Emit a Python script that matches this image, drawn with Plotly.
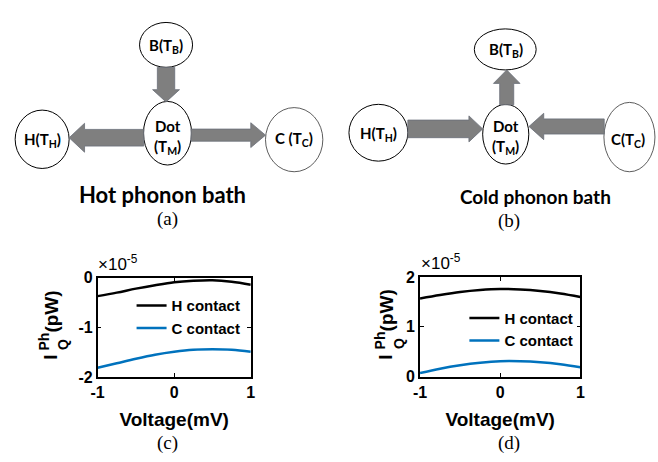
import plotly.graph_objects as go

W, H = 658, 462

# Bias voltage (mV) and phonon heat current (in units of 1e-5 pW)
voltage = [-1, -0.75, -0.5, -0.25, 0, 0.25, 0.5, 0.75, 1]
hot_bath_H = [-0.37, -0.30, -0.22, -0.15, -0.09, -0.06, -0.05, -0.08, -0.14]
hot_bath_C = [-1.81, -1.72, -1.63, -1.55, -1.49, -1.45, -1.44, -1.45, -1.49]
cold_bath_H = [1.57, 1.64, 1.70, 1.74, 1.76, 1.75, 1.72, 1.67, 1.60]
cold_bath_C = [0.07, 0.16, 0.23, 0.28, 0.31, 0.31, 0.29, 0.25, 0.19]

series_names = ["H contact", "C contact"]
x_tickvals = [-1, 0, 1]
x_ticktext = ["-1", "0", "1"]
yc_tickvals = [-2, -1, 0]
yc_ticktext = ["-2", "-1", "0"]
yd_tickvals = [0, 1, 2]
yd_ticktext = ["0", "1", "2"]

BLACK = "#000000"
BLUE = "#0072BD"
ARROW = "#7f7f7f"
AX_FONT = "Liberation Sans"
DIA_FONT = "Lato"
CAP_FONT = "Liberation Serif"


def px(x):
    return x / W


def py(y):
    return 1 - y / H


def ellipse(cx, cy, rx, ry, width=1.0, color="black"):
    return dict(type="circle", xref="paper", yref="paper",
                x0=px(cx - rx), x1=px(cx + rx), y0=py(cy + ry), y1=py(cy - ry),
                line=dict(color=color, width=width), fillcolor="white", layer="above")


def arrow(x0, y0, x1, y1, shaft, head, head_len):
    # block arrow from (x0, y0) to tip (x1, y1), pixel units
    dx, dy = x1 - x0, y1 - y0
    length = (dx * dx + dy * dy) ** 0.5
    ux, uy = dx / length, dy / length
    nx, ny = -uy, ux
    bx, by = x1 - ux * head_len, y1 - uy * head_len
    pts = [
        (x0 + nx * shaft / 2, y0 + ny * shaft / 2),
        (bx + nx * shaft / 2, by + ny * shaft / 2),
        (bx + nx * head / 2, by + ny * head / 2),
        (x1, y1),
        (bx - nx * head / 2, by - ny * head / 2),
        (bx - nx * shaft / 2, by - ny * shaft / 2),
        (x0 - nx * shaft / 2, y0 - ny * shaft / 2),
    ]
    path = "M " + " L ".join(f"{px(a):.5f},{py(b):.5f}" for a, b in pts) + " Z"
    return dict(type="path", xref="paper", yref="paper", path=path,
                fillcolor=ARROW, line=dict(color="#6a6f78", width=0.8), layer="above")


def label(x, y, text, size=15, family=DIA_FONT, bold=True, **kw):
    t = f"<b>{text}</b>" if bold else text
    d = dict(x=px(x), y=py(y), xref="paper", yref="paper", text=t, showarrow=False,
             font=dict(family=family, size=size, color="black"),
             xanchor="center", yanchor="middle")
    d.update(kw)
    return d


fig = go.Figure()

# (c) hot phonon bath
fig.add_trace(go.Scatter(x=voltage, y=hot_bath_H, name=series_names[0], mode="lines",
                         line=dict(color=BLACK, width=2.5, shape="spline"),
                         xaxis="x", yaxis="y", legend="legend"))
fig.add_trace(go.Scatter(x=voltage, y=hot_bath_C, name=series_names[1], mode="lines",
                         line=dict(color=BLUE, width=2.5, shape="spline"),
                         xaxis="x", yaxis="y", legend="legend"))
# (d) cold phonon bath
fig.add_trace(go.Scatter(x=voltage, y=cold_bath_H, name=series_names[0], mode="lines",
                         line=dict(color=BLACK, width=2.5, shape="spline"),
                         xaxis="x2", yaxis="y2", legend="legend2"))
fig.add_trace(go.Scatter(x=voltage, y=cold_bath_C, name=series_names[1], mode="lines",
                         line=dict(color=BLUE, width=2.5, shape="spline"),
                         xaxis="x2", yaxis="y2", legend="legend2"))

tick_font = dict(family=AX_FONT, size=16, color="black", weight="bold")
common = dict(showline=True, linecolor="black", linewidth=1.6, mirror="allticks",
              ticks="inside", ticklen=4, tickwidth=1.2, tickcolor="black",
              showgrid=False, zeroline=False, tickfont=tick_font, tickmode="array",
              fixedrange=True)
xtitle = dict(text="<b>Voltage(mV)</b>", font=dict(family=AX_FONT, size=19, color="black"),
              standoff=13)
legend_font = dict(family=AX_FONT, size=15, color="black", weight="bold")

fig.update_layout(
    width=W, height=H,
    margin=dict(l=0, r=0, t=0, b=0),
    paper_bgcolor="white", plot_bgcolor="white",
    xaxis=dict(domain=[px(92.3), px(248.3)], anchor="y", range=[-1, 1],
               tickvals=x_tickvals, ticktext=x_ticktext, title=xtitle, **common),
    yaxis=dict(domain=[py(383.3), py(280)], anchor="x", range=[-2, 0],
               tickvals=yc_tickvals, ticktext=yc_ticktext, **common),
    xaxis2=dict(domain=[px(420.7), px(584)], anchor="y2", range=[-1, 1],
                tickvals=x_tickvals, ticktext=x_ticktext, title=xtitle, **common),
    yaxis2=dict(domain=[py(382.7), py(279.3)], anchor="x2", range=[0, 2],
                tickvals=yd_tickvals, ticktext=yd_ticktext, **common),
    legend=dict(x=px(243), xanchor="right", y=py(292), yanchor="top",
                bgcolor="rgba(0,0,0,0)", itemwidth=30, tracegroupgap=0,
                font=legend_font),
    legend2=dict(x=px(582), xanchor="right", y=py(305), yanchor="top",
                 bgcolor="rgba(0,0,0,0)", itemwidth=30, tracegroupgap=0,
                 font=legend_font),
    showlegend=True,
)

shapes = [
    # (a) hot phonon bath
    ellipse(162, 38.3, 27, 23.3),
    ellipse(163.5, 130, 24.5, 33),
    ellipse(35.8, 136.3, 27.5, 30.3),
    ellipse(292.5, 136.7, 29.2, 33.3, width=0.8, color="#333333"),
    arrow(162, 61.7, 162, 97.5, 17.7, 27.4, 12.7),
    arrow(139.3, 134.7, 63.3, 134.7, 17.3, 30, 15.7),
    arrow(187.5, 132, 263.3, 132, 12.6, 25.7, 15),
    # (b) cold phonon bath
    ellipse(507.5, 43, 31.5, 21.3),
    ellipse(508, 131, 23.5, 31),
    ellipse(378.3, 129.5, 30, 29.5),
    ellipse(634, 134, 26, 36, width=0.8, color="#333333"),
    arrow(509, 100.5, 509, 64.3, 14.3, 27, 14),
    arrow(408.3, 125.5, 484.5, 125.5, 18.3, 27, 14),
    arrow(608.3, 123, 531.7, 123, 15.7, 27.4, 15),
]
fig.update_layout(shapes=shapes)

annotations = [
    # (a)
    label(162, 39, "B(T<sub>B</sub>)"),
    label(163.5, 123, "Dot"),
    label(163.5, 144, "(T<sub>M</sub>)"),
    label(36, 137, "H(T<sub>H</sub>)"),
    label(292, 136, "C (T<sub>C</sub>)"),
    label(158, 194, "Hot phonon bath", size=22),
    label(163, 219, "(a)", size=19, family=CAP_FONT, bold=False),
    # (b)
    label(508, 44, "B(T<sub>B</sub>)"),
    label(508, 123, "Dot"),
    label(508, 144, "(T<sub>M</sub>)"),
    label(378.5, 131, "H(T<sub>H</sub>)"),
    label(633, 137, "C(T<sub>C</sub>)"),
    label(538, 196, "Cold phonon bath", size=19),
    label(511, 221, "(b)", size=19, family=CAP_FONT, bold=False),
    # (c), (d) captions
    label(163, 452, "(c)", size=19, family=CAP_FONT, bold=False),
    label(511, 452, "(d)", size=19, family=CAP_FONT, bold=False),
    # exponent labels
    label(91, 278, "×10<sup>-5</sup>", size=17, family=AX_FONT, bold=False,
          xanchor="left", yanchor="bottom"),
    label(420, 277, "×10<sup>-5</sup>", size=17, family=AX_FONT, bold=False,
          xanchor="left", yanchor="bottom"),
]

# stacked y-axis titles  I_Q^Ph (pW)
for dx, dy in [(0, 0), (342, -1)]:
    annotations += [
        label(44 + dx, 363 + dy, "I", size=19, family=AX_FONT, textangle=-90),
        label(38 + dx, 346 + dy, "Ph", size=14, family=AX_FONT, textangle=-90),
        label(57 + dx, 349 + dy, "Q", size=14, family=AX_FONT, textangle=-90),
        label(45 + dx, 315 + dy, "(pW)", size=19, family=AX_FONT, textangle=-90),
    ]

fig.update_layout(annotations=annotations)

fig.write_html("out.html")
